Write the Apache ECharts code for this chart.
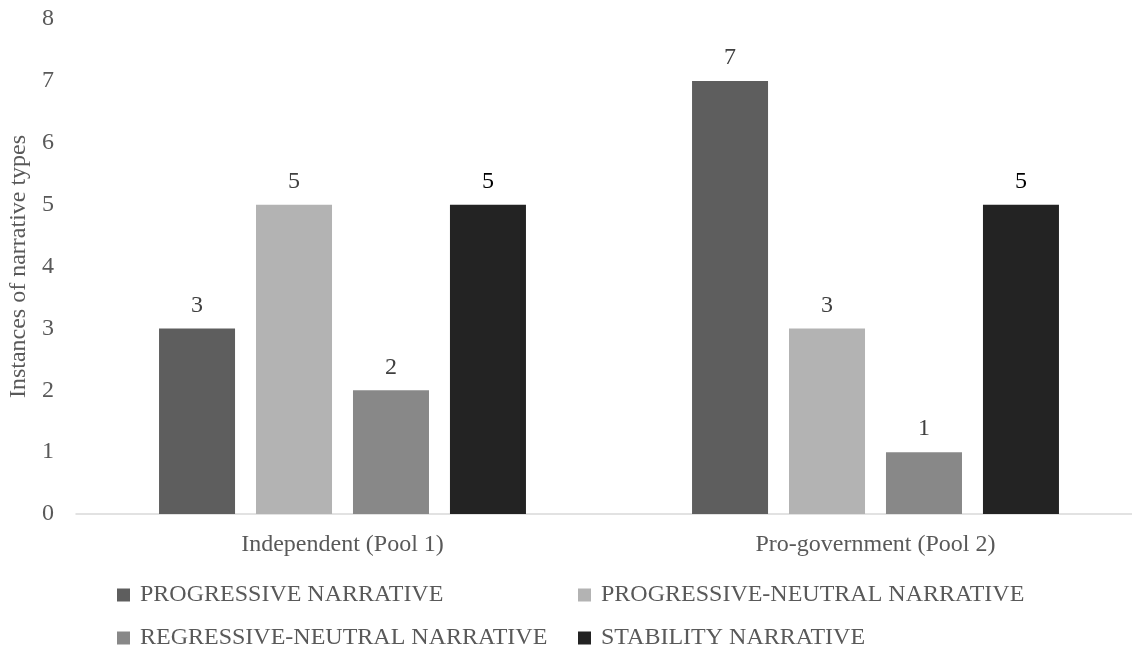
<!DOCTYPE html>
<html>
<head>
<meta charset="utf-8">
<script src="https://cdn.jsdelivr.net/npm/echarts@6/dist/echarts.min.js"></script>
<style>
  html, body { margin: 0; padding: 0; background: #ffffff; }
  #chart { width: 1132px; height: 648px; }
</style>
</head>
<body>
<div id="chart"></div>
<script>
// Narrative-type counts per media pool
const categories = ['Independent (Pool 1)', 'Pro-government (Pool 2)'];
const seriesNames = [
  'PROGRESSIVE NARRATIVE',
  'PROGRESSIVE-NEUTRAL NARRATIVE',
  'REGRESSIVE-NEUTRAL NARRATIVE',
  'STABILITY NARRATIVE'
];
const progressive = [3, 7];
const progressiveNeutral = [5, 3];
const regressiveNeutral = [2, 1];
const stability = [5, 5];
const yTicks = [0, 1, 2, 3, 4, 5, 6, 7, 8];

const colors = ['#5e5e5e', '#b3b3b3', '#888888', '#232323'];
const labelColors = ['#404040', '#404040', '#404040', '#000000'];
const values = [progressive, progressiveNeutral, regressiveNeutral, stability];
const FONT = '"Liberation Serif", "Times New Roman", serif';
const TEXT = '#595959';
const FS = 24;

const series = seriesNames.map((name, i) => ({
  name: name,
  type: 'bar',
  data: values[i],
  barWidth: 76,
  barGap: '27.6%',
  itemStyle: { color: colors[i] },
  label: {
    show: true,
    position: 'top',
    distance: 11,
    color: labelColors[i],
    fontFamily: FONT,
    fontSize: FS
  }
}));

// Legend laid out as a two-column grid: one legend block per entry
const legendSlots = [
  { left: 117, top: 583 },
  { left: 578, top: 583 },
  { left: 117, top: 626 },
  { left: 578, top: 626 }
];
const legends = seriesNames.map((name, i) => ({
  data: [name],
  left: legendSlots[i].left,
  top: legendSlots[i].top,
  padding: 0,
  itemWidth: 13,
  itemHeight: 13,
  icon: 'rect',
  textStyle: { color: TEXT, fontFamily: FONT, fontSize: FS, padding: [0, 0, 0, 5] }
}));

const chart = echarts.init(document.getElementById('chart'));
chart.setOption({
  backgroundColor: '#ffffff',
  animation: false,
  grid: {
    left: 76, width: 1066, top: 19, bottom: 134,
    containLabel: false, outerBoundsMode: 'none'
  },
  legend: legends,
  xAxis: {
    type: 'category',
    data: categories,
    axisLine: { show: true, lineStyle: { color: '#d9d9d9', width: 1.5 } },
    axisTick: { show: false },
    axisLabel: { color: TEXT, fontFamily: FONT, fontSize: FS, margin: 19 }
  },
  yAxis: {
    type: 'value',
    min: yTicks[0],
    max: yTicks[yTicks.length - 1],
    interval: 1,
    name: 'Instances of narrative types',
    nameLocation: 'middle',
    nameGap: 44,
    nameTextStyle: { color: TEXT, fontFamily: FONT, fontSize: FS },
    axisLine: { show: false },
    axisTick: { show: false },
    splitLine: { show: false },
    axisLabel: { color: TEXT, fontFamily: FONT, fontSize: FS, margin: 22 }
  },
  series: series
});
</script>
</body>
</html>
